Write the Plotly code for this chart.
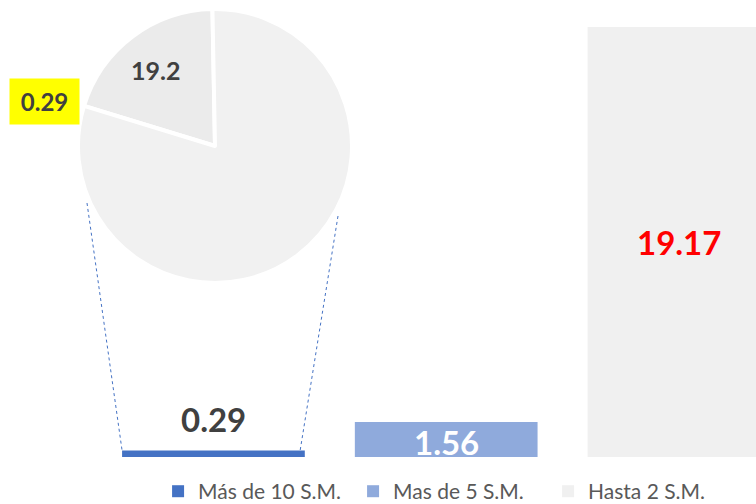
import plotly.graph_objects as go

# ---- data ----
categories = ["Más de 10 S.M.", "Mas de 5 S.M.", "Hasta 2 S.M."]
bar_values = [0.29, 1.56, 19.17]
bar_colors = ["#4472c4", "#8faadc", "#f0f0f0"]

pie_labels = ["Otros", "Resto"]
pie_values = [19.2, 76.9]
pie_colors = ["#ebebeb", "#f1f1f1"]

highlight_label = "0.29"

FONT = "Lato"
W, H = 756, 504
xr = [-0.917, 2.331]
yr = [-2.095, 20.375]
bar_w = 0.785

fig = go.Figure()

for i, (cat, val, col) in enumerate(zip(categories, bar_values, bar_colors)):
    fig.add_trace(go.Bar(
        x=[i], y=[val], name=cat, width=bar_w,
        marker=dict(color=col, line=dict(width=0)),
        hoverinfo="skip",
    ))

fig.add_trace(go.Pie(
    labels=pie_labels, values=pie_values, sort=False,
    direction="clockwise", rotation=-73,
    marker=dict(colors=pie_colors, line=dict(color="white", width=4)),
    textinfo="none", showlegend=False, hoverinfo="skip",
    domain=dict(x=[78 / W, 352 / W], y=[1 - 283 / H, 1 - 9 / H]),
))

# data labels for bars
lab_style = [
    dict(color="#404040", yshift=32, yfrac=1.0),
    dict(color="#ffffff", yshift=-20, yfrac=1.0),
    dict(color="#ff0000", yshift=0, yfrac=0.5),
]
for i, (val, st) in enumerate(zip(bar_values, lab_style)):
    fig.add_annotation(
        x=i, y=val * st["yfrac"], xref="x", yref="y", text=f"{val:.2f}",
        showarrow=False, xanchor="center", yanchor="middle", yshift=st["yshift"],
        font=dict(family=FONT, size=33, color=st["color"], weight="bold"),
    )

# pie labels
fig.add_annotation(
    x=155 / W, y=1 - 70 / H, xref="paper", yref="paper", text=f"{pie_values[0]}",
    showarrow=False, xanchor="center", yanchor="middle",
    font=dict(family=FONT, size=25, color="#404040", weight="bold"),
)
fig.add_annotation(
    x=44.5 / W, y=1 - 101.5 / H, xref="paper", yref="paper", text=highlight_label,
    showarrow=False, xanchor="center", yanchor="middle",
    bgcolor="#ffff00", width=67, height=43,
    font=dict(family=FONT, size=24, color="#404040", weight="bold"),
)

# connector lines (pie -> first bar)
def px_to_data(px, py):
    return (xr[0] + px / W * (xr[1] - xr[0]), yr[1] - py / H * (yr[1] - yr[0]))

lx, ly = px_to_data(87, 203)
rx, ry = px_to_data(338, 216)
for (tx, ty), bx in [((lx, ly), 0 - bar_w / 2), ((rx, ry), 0 + bar_w / 2 - 0.02)]:
    fig.add_shape(type="line", xref="x", yref="y", x0=tx, y0=ty, x1=bx, y1=bar_values[0],
                  line=dict(color="#4472c4", width=1, dash="dot"))

fig.update_layout(
    width=W, height=H, margin=dict(l=0, r=0, t=0, b=0, autoexpand=False),
    paper_bgcolor="white", plot_bgcolor="white",
    barmode="overlay",
    xaxis=dict(range=xr, visible=False),
    yaxis=dict(range=yr, visible=False),
    legend=dict(orientation="h", x=0.596, xanchor="center", y=-0.016, yanchor="bottom",
                entrywidth=150, entrywidthmode="pixels",
                font=dict(family=FONT, size=21, color="#595959"),
                bgcolor="rgba(0,0,0,0)"),
)

fig.write_html("out.html", config={"displayModeBar": False},
               post_script="document.body.style.margin='0';")
